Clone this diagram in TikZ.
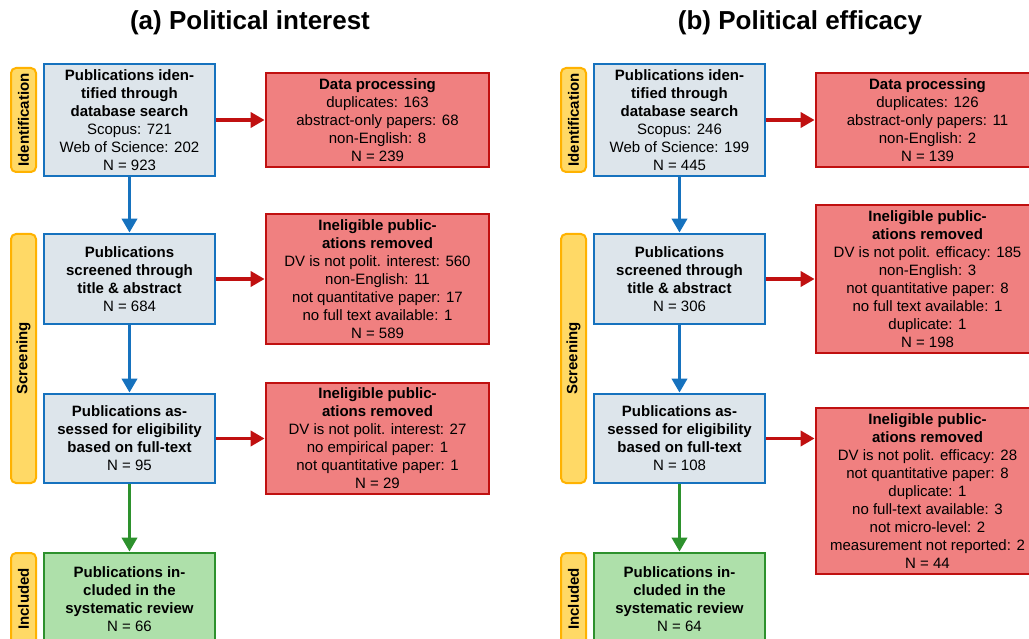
\documentclass[tikz,border=0pt]{standalone}
\usepackage{fontspec}
\setmainfont{Liberation Sans}
\usetikzlibrary{arrows.meta}

\definecolor{scrblue}{RGB}{22,114,190}
\definecolor{scrfill}{RGB}{221,229,235}
\definecolor{exred}{RGB}{192,16,16}
\definecolor{exfill}{RGB}{240,128,128}
\definecolor{incgreen}{RGB}{45,145,45}
\definecolor{incfill}{RGB}{174,224,170}
\definecolor{tagline}{RGB}{255,178,0}
\definecolor{tagfill}{RGB}{255,217,102}

\begin{document}
\begin{tikzpicture}[x=1pt, y=-1pt,
		rec/.style = {draw=scrblue, fill=scrfill, line width=2.7pt, minimum width=171pt, inner sep=0pt, align=center, font=\fontsize{15}{18}\selectfont},
		exc/.style = {draw=exred, fill=exfill, line width=2.7pt, minimum width=223pt, inner sep=0pt, align=center, font=\fontsize{15}{18}\selectfont},
		inc/.style = {rec, draw=incgreen, fill=incfill},
		phase/.style = {draw=tagline, fill=tagfill, line width=2pt, rounded corners=5pt, rotate=90, minimum height=25pt, inner sep=0pt, font=\bfseries\fontsize{15}{18}\selectfont},
		ttl/.style = {font=\bfseries\fontsize{26}{30}\selectfont},
		flow/.style = {line width=3.5pt, -{Triangle[length=14pt,width=15pt]}}
	]
	\useasboundingbox (0,0) rectangle (1029,639);
	\clip (0,0) rectangle (1029,639);

	% (a) political interest
	\node[ttl] (ta) at (250,23) {(a) Political interest};
	\node[phase, minimum width=104pt] (aphid) at (23.5,120)   {Identification};
	\node[phase, minimum width=249pt] (aphsc) at (23.5,358.5) {Screening};
	\node[phase, minimum width=92pt]  (aphin) at (23.5,599)   {Included};

	\node[rec, minimum height=112pt] (aid) at (129.5,120) {\textbf{Publications iden-}\\\textbf{tified through}\\\textbf{database search}\\Scopus: 721\\Web of Science: 202\\N = 923};
	\node[exc, minimum height=94pt]  (adp) at (377.5,120) {\textbf{Data processing}\\duplicates: 163\\abstract-only papers: 68\\non-English: 8\\N = 239};
	\node[rec, minimum height=90pt]  (asc) at (129.5,279) {\textbf{Publications}\\\textbf{screened through}\\\textbf{title \& abstract}\\N = 684};
	\node[exc, minimum height=130pt] (ase) at (377.5,279) {\textbf{Ineligible public-}\\\textbf{ations removed}\\DV is not polit. interest: 560\\non-English: 11\\not quantitative paper: 17\\no full text available: 1\\N = 589};
	\node[rec, minimum height=89pt]  (ael) at (129.5,438.5) {\textbf{Publications as-}\\\textbf{sessed for eligibility}\\\textbf{based on full-text}\\N = 95};
	\node[exc, minimum height=111pt] (aer) at (377.5,438.5) {\textbf{Ineligible public-}\\\textbf{ations removed}\\DV is not polit. interest: 27\\no empirical paper: 1\\not quantitative paper: 1\\N = 29};
	\node[inc, minimum height=92pt]  (ain) at (129.5,599) {\textbf{Publications in-}\\\textbf{cluded in the}\\\textbf{systematic review}\\N = 66};

	\draw[flow, exred] (aid.east) -- (aid.east -| adp.west);
	\draw[flow, exred] (asc.east) -- (asc.east -| ase.west);
	\draw[flow, exred] (ael.east) -- (ael.east -| aer.west);
	\draw[flow, scrblue] (aid) -- (asc);
	\draw[flow, scrblue] (asc) -- (ael);
	\draw[flow, incgreen] (ael) -- (ain);

	% (b) political efficacy
	\node[ttl] (tb) at (800,23) {(b) Political efficacy};
	\node[phase, minimum width=104pt] (bphid) at (573.5,120)   {Identification};
	\node[phase, minimum width=249pt] (bphsc) at (573.5,358.5) {Screening};
	\node[phase, minimum width=92pt]  (bphin) at (573.5,599)   {Included};

	\node[rec, minimum height=112pt] (bid) at (679.5,120) {\textbf{Publications iden-}\\\textbf{tified through}\\\textbf{database search}\\Scopus: 246\\Web of Science: 199\\N = 445};
	\node[exc, minimum height=94pt]  (bdp) at (927.5,120) {\textbf{Data processing}\\duplicates: 126\\abstract-only papers: 11\\non-English: 2\\N = 139};
	\node[rec, minimum height=90pt]  (bsc) at (679.5,279) {\textbf{Publications}\\\textbf{screened through}\\\textbf{title \& abstract}\\N = 306};
	\node[exc, minimum height=148pt] (bse) at (927.5,279) {\textbf{Ineligible public-}\\\textbf{ations removed}\\DV is not polit. efficacy: 185\\non-English: 3\\not quantitative paper: 8\\no full text available: 1\\duplicate: 1\\N = 198};
	\node[rec, minimum height=89pt]  (bel) at (679.5,438.5) {\textbf{Publications as-}\\\textbf{sessed for eligibility}\\\textbf{based on full-text}\\N = 108};
	\node[exc, minimum height=166pt] (ber) at (927.5,491) {\textbf{Ineligible public-}\\\textbf{ations removed}\\DV is not polit. efficacy: 28\\not quantitative paper: 8\\duplicate: 1\\no full-text available: 3\\not micro-level: 2\\measurement not reported: 2\\N = 44};
	\node[inc, minimum height=92pt]  (bin) at (679.5,599) {\textbf{Publications in-}\\\textbf{cluded in the}\\\textbf{systematic review}\\N = 64};

	\draw[flow, exred] (bid.east) -- (bid.east -| bdp.west);
	\draw[flow, exred] (bsc.east) -- (bsc.east -| bse.west);
	\draw[flow, exred] (bel.east) -- (bel.east -| ber.west);
	\draw[flow, scrblue] (bid) -- (bsc);
	\draw[flow, scrblue] (bsc) -- (bel);
	\draw[flow, incgreen] (bel) -- (bin);
\end{tikzpicture}
\end{document}
